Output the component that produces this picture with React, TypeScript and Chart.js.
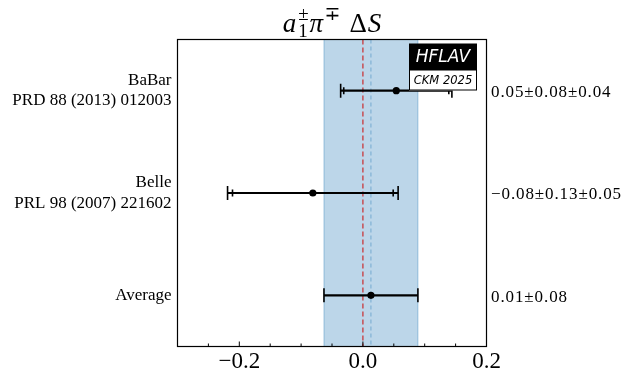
import React, { useEffect, useRef } from "react";
import { Chart, registerables } from "chart.js";

Chart.register(...registerables);

// ---------------- data ----------------
const measurementLabels: string[][] = [
  ["BaBar", "PRD 88 (2013) 012003"],
  ["Belle", "PRL 98 (2007) 221602"],
  ["Average"],
];
const rowPositions = [3, 2, 1];
const centralValues = [0.054, -0.081, 0.013];
const statErrors = [0.085, 0.13, 0.076];
const totalErrors = [0.09, 0.138, 0.076];
const resultLabels = ["0.05±0.08±0.04", "−0.08±0.13±0.05", "0.01±0.08"];
const averageIndex = 2;
const referenceValue = 0;
const xMin = -0.3;
const xMax = 0.2;
const xTickValues = [-0.3, -0.25, -0.2, -0.15, -0.1, -0.05, 0, 0.05, 0.1, 0.15, 0.2];
const xMajorTicks = [-0.2, 0.0, 0.2];
const logoTop = "HFLAV";
const logoBottom = "CKM 2025";

const SERIF = '"Liberation Serif", "DejaVu Serif", serif';
const SANS = '"DejaVu Sans", sans-serif';

const isMajor = (v: number) => xMajorTicks.some((m) => Math.abs(m - v) < 1e-9);
const fmtTick = (v: number) => (v < -1e-12 ? "\u2212" : "") + Math.abs(v).toFixed(1);

function drawTitle(ctx: CanvasRenderingContext2D, cx: number) {
  const big = 27;
  const small = 19;
  const B = 31.5;
  const fI = `italic ${big}px ${SERIF}`;
  const fR = `${big}px ${SERIF}`;
  const fS = `${small}px ${SERIF}`;
  ctx.save();
  ctx.fillStyle = "#000";
  ctx.textBaseline = "alphabetic";
  ctx.textAlign = "left";
  const w = (t: string, f: string) => {
    ctx.font = f;
    return ctx.measureText(t).width;
  };
  const wa = w("a", fI);
  const wsup1 = Math.max(w("±", fS), w("1", fS));
  const wpi = w("π", fI);
  const wsup2 = w("∓", fS);
  const gap = 9;
  const wD = w("Δ", fR);
  const wS = w("S", fI);
  const total = wa + 2 + wsup1 + 1 + wpi + 1.5 + wsup2 + gap + wD + 1 + wS;
  let x = cx - total / 2;
  ctx.font = fI;
  ctx.fillText("a", x, B);
  x += wa + 2;
  ctx.font = fS;
  ctx.fillText("±", x, B - 12);
  ctx.fillText("1", x, B + 5);
  x += wsup1 + 1;
  ctx.font = fI;
  ctx.fillText("π", x, B);
  x += wpi + 1.5;
  ctx.font = fS;
  ctx.fillText("∓", x, B - 12);
  x += wsup2 + gap;
  ctx.font = fR;
  ctx.fillText("Δ", x, B);
  x += wD + 1;
  ctx.font = fI;
  ctx.fillText("S", x, B);
  ctx.restore();
}

const hflavPlugin = {
  id: "hflavDecor",
  beforeDatasetsDraw(chart: any) {
    const { ctx, chartArea: a, scales } = chart;
    const xs = scales.x;
    const ys = scales.y;
    ctx.save();
    // average band
    const avg = centralValues[averageIndex];
    const err = totalErrors[averageIndex];
    const x0 = xs.getPixelForValue(avg - err);
    const x1 = xs.getPixelForValue(avg + err);
    ctx.fillStyle = "rgb(188,214,233)";
    ctx.fillRect(x0, a.top, x1 - x0, a.bottom - a.top);
    ctx.strokeStyle = "rgba(31,119,180,0.28)";
    ctx.lineWidth = 1.3;
    ctx.beginPath();
    ctx.moveTo(x0, a.top);
    ctx.lineTo(x0, a.bottom);
    ctx.moveTo(x1, a.top);
    ctx.lineTo(x1, a.bottom);
    ctx.stroke();
    // average dashed line
    const xa = xs.getPixelForValue(avg);
    ctx.setLineDash([4, 3]);
    ctx.strokeStyle = "rgba(31,119,180,0.45)";
    ctx.lineWidth = 1;
    ctx.beginPath();
    ctx.moveTo(xa, a.top);
    ctx.lineTo(xa, a.bottom);
    ctx.stroke();
    // reference (zero) dashed line
    const xr = xs.getPixelForValue(referenceValue);
    ctx.setLineDash([5, 3]);
    ctx.strokeStyle = "#c9393b";
    ctx.lineWidth = 1.3;
    ctx.beginPath();
    ctx.moveTo(xr, a.top);
    ctx.lineTo(xr, a.bottom);
    ctx.stroke();
    ctx.setLineDash([]);
    // error bars
    ctx.strokeStyle = "#000";
    for (let i = 0; i < centralValues.length; i++) {
      const py = ys.getPixelForValue(rowPositions[i]);
      const v = centralValues[i];
      const tl = xs.getPixelForValue(v - totalErrors[i]);
      const tr = xs.getPixelForValue(v + totalErrors[i]);
      ctx.lineWidth = 2.2;
      ctx.beginPath();
      ctx.moveTo(tl, py);
      ctx.lineTo(tr, py);
      ctx.stroke();
      ctx.lineWidth = 1.6;
      ctx.beginPath();
      ctx.moveTo(tl, py - 7);
      ctx.lineTo(tl, py + 7);
      ctx.moveTo(tr, py - 7);
      ctx.lineTo(tr, py + 7);
      if (statErrors[i] < totalErrors[i] - 1e-9) {
        const sl = xs.getPixelForValue(v - statErrors[i]);
        const sr = xs.getPixelForValue(v + statErrors[i]);
        ctx.moveTo(sl, py - 3.5);
        ctx.lineTo(sl, py + 3.5);
        ctx.moveTo(sr, py - 3.5);
        ctx.lineTo(sr, py + 3.5);
      }
      ctx.stroke();
    }
    ctx.restore();
  },
  afterDatasetsDraw(chart: any) {
    const { ctx, chartArea: a, scales } = chart;
    const xs = scales.x;
    const ys = scales.y;
    ctx.save();
    // frame
    ctx.strokeStyle = "#000";
    ctx.lineWidth = 1.2;
    ctx.strokeRect(a.left, a.top, a.right - a.left, a.bottom - a.top);
    // inward ticks on bottom axis
    ctx.lineWidth = 1;
    ctx.beginPath();
    for (const t of xs.ticks) {
      const px = xs.getPixelForValue(t.value);
      const len = isMajor(t.value) ? 5 : 3;
      ctx.moveTo(px, a.bottom);
      ctx.lineTo(px, a.bottom - len);
    }
    ctx.stroke();
    // result labels on the right
    ctx.fillStyle = "#000";
    ctx.font = `17px ${SERIF}`;
    (ctx as any).letterSpacing = "0.9px";
    ctx.textAlign = "left";
    ctx.textBaseline = "middle";
    for (let i = 0; i < resultLabels.length; i++) {
      const py = ys.getPixelForValue(rowPositions[i]);
      ctx.fillText(resultLabels[i], a.right + 4.5, py + 2);
    }
    (ctx as any).letterSpacing = "0px";
    // HFLAV logo
    const lx1 = a.right - 9.5;
    const lx0 = lx1 - 68;
    const ly0 = a.top + 4;
    const ly1 = ly0 + 26.5;
    const ly2 = ly1 + 20.5;
    ctx.fillStyle = "#000";
    ctx.fillRect(lx0, ly0, lx1 - lx0, ly1 - ly0);
    ctx.fillStyle = "#fff";
    ctx.fillRect(lx0, ly1, lx1 - lx0, ly2 - ly1);
    ctx.strokeStyle = "#000";
    ctx.lineWidth = 1;
    ctx.strokeRect(lx0 + 0.5, ly1, lx1 - lx0 - 1, ly2 - ly1 - 0.5);
    ctx.textAlign = "center";
    ctx.textBaseline = "middle";
    ctx.fillStyle = "#fff";
    ctx.font = `italic 17px ${SANS}`;
    ctx.fillText(logoTop, (lx0 + lx1) / 2, (ly0 + ly1) / 2 + 1);
    ctx.fillStyle = "#000";
    ctx.font = `italic 11.5px ${SANS}`;
    ctx.fillText(logoBottom, (lx0 + lx1) / 2, (ly1 + ly2) / 2 + 0.5);
    ctx.restore();
  },
  afterDraw(chart: any) {
    const a = chart.chartArea;
    drawTitle(chart.ctx, (a.left + a.right) / 2);
  },
};

export default function App() {
  const ref = useRef<HTMLCanvasElement | null>(null);
  useEffect(() => {
    if (!ref.current) return;
    const chart = new Chart(ref.current, {
      type: "scatter",
      data: {
        datasets: [
          {
            data: centralValues.map((v, i) => ({ x: v, y: rowPositions[i] })),
            backgroundColor: "#000",
            borderColor: "#000",
            pointRadius: 3.6,
            borderWidth: 0,
          },
        ],
      },
      options: {
        animation: false,
        responsive: false,
        maintainAspectRatio: false,
        layout: { padding: { top: 39.5, right: 140.5, left: 0, bottom: 0 } },
        plugins: {
          legend: { display: false },
          tooltip: { enabled: false },
          title: { display: false },
        },
        scales: {
          x: {
            type: "linear",
            min: xMin,
            max: xMax,
            afterBuildTicks: (s: any) => {
              s.ticks = xTickValues.map((v) => ({ value: v }));
            },
            ticks: {
              autoSkip: false,
              maxRotation: 0,
              minRotation: 0,
              padding: 2,
              color: "#000",
              font: { family: SERIF, size: 23 },
              callback: (v: any) => (isMajor(Number(v)) ? fmtTick(Number(v)) : ""),
            },
            grid: { display: false, drawTicks: false },
            border: { display: false },
            afterFit: (s: any) => {
              s.height = 35.5;
            },
          },
          y: {
            type: "linear",
            min: 0.5,
            max: 3.5,
            afterBuildTicks: (s: any) => {
              s.ticks = rowPositions.map((v) => ({ value: v }));
            },
            ticks: {
              autoSkip: false,
              padding: 6,
              color: "#000",
              font: { family: SERIF, size: 17, lineHeight: 1.2 },
              callback: (v: any) => {
                const i = rowPositions.indexOf(Number(v));
                return i >= 0 ? measurementLabels[i] : "";
              },
            },
            grid: { display: false, drawTicks: false },
            border: { display: false },
            afterFit: (s: any) => {
              s.width = 177.5;
            },
          },
        },
      },
      plugins: [hflavPlugin],
    });
    return () => chart.destroy();
  }, []);
  return (
    <div style={{ position: "fixed", left: 0, top: 0, width: 627, height: 382, background: "#fff" }}>
      <canvas ref={ref} width={627} height={382} style={{ display: "block" }} />
    </div>
  );
}
